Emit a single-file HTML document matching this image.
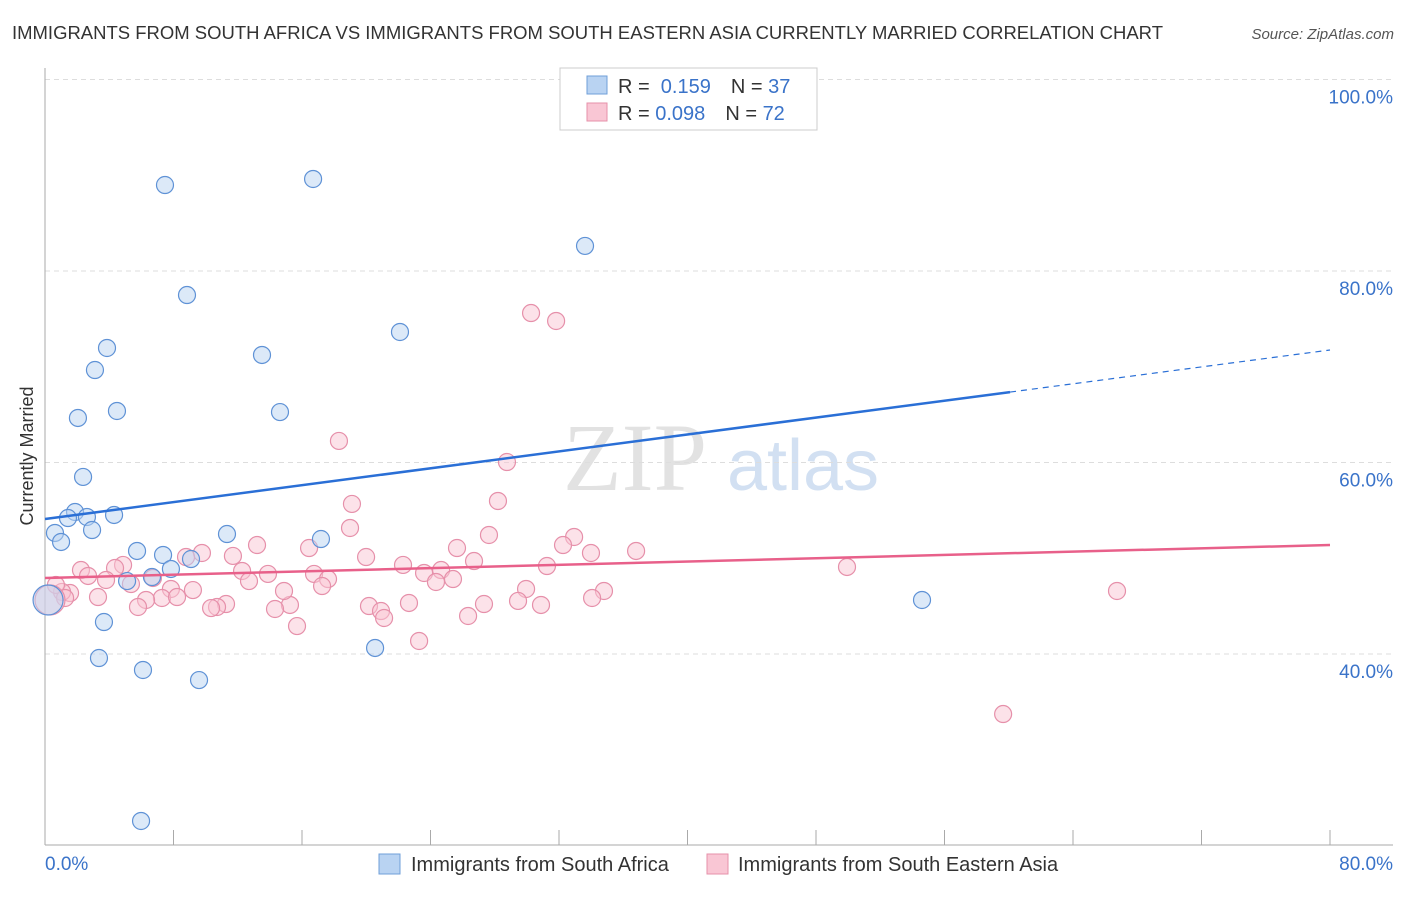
<!DOCTYPE html>
<html><head><meta charset="utf-8"><style>
body{margin:0;background:#fff;font-family:"Liberation Sans",sans-serif}
#wrap{position:relative;width:1406px;height:892px}
</style></head><body>
<div id="wrap">
<svg id="svg" width="1406" height="892" xmlns="http://www.w3.org/2000/svg">
<text x="12" y="39" font-size="18" fill="#333" textLength="1151" lengthAdjust="spacingAndGlyphs">IMMIGRANTS FROM SOUTH AFRICA VS IMMIGRANTS FROM SOUTH EASTERN ASIA CURRENTLY MARRIED CORRELATION CHART</text>
<text x="1394" y="39" font-size="15" fill="#555" font-style="italic" text-anchor="end">Source: ZipAtlas.com</text>
<text transform="translate(33,456) rotate(-90)" font-size="18" fill="#333" text-anchor="middle">Currently Married</text>
<g><text x="635" y="490" font-size="96" fill="#e2e2e2" font-family="Liberation Serif" text-anchor="middle">ZIP</text><text x="803" y="490" font-size="72" fill="#d2e0f2" text-anchor="middle">atlas</text></g>
<g id="grid"></g><g id="marks"></g>
<g>
<rect x="560" y="68" width="257" height="62" fill="#fff" stroke="#ccc"/>
<rect x="587" y="76" width="20" height="18" fill="#b9d3f2" stroke="#6f9fd8"/>
<rect x="587" y="103" width="20" height="18" fill="#f9c6d4" stroke="#e690aa"/>
<text x="618" y="93" font-size="20" fill="#333">R = <tspan fill="#3a73c9">&#160;0.159</tspan><tspan dx="20">N = </tspan><tspan fill="#3a73c9">37</tspan></text>
<text x="618" y="120" font-size="20" fill="#333">R = <tspan fill="#3a73c9">0.098</tspan><tspan dx="20">N = </tspan><tspan fill="#3a73c9">72</tspan></text>
</g>
<g>
<rect x="379" y="854" width="21" height="20" fill="#b9d3f2" stroke="#6f9fd8"/>
<text x="411" y="871" font-size="20" fill="#333">Immigrants from South Africa</text>
<rect x="707" y="854" width="21" height="20" fill="#f9c6d4" stroke="#e690aa"/>
<text x="738" y="871" font-size="20" fill="#333">Immigrants from South Eastern Asia</text>
</g>
</svg></div>
<script>
const blueX=[7.47,16.69,33.62,8.84,3.86,13.51,22.10,3.11,4.48,2.05,14.63,2.37,1.87,1.43,2.61,4.30,0.62,1.00,2.93,11.33,17.18,5.73,7.35,9.09,7.84,6.66,5.11,3.67,3.36,6.10,9.59,20.55,54.60,5.98,0.19];
const blueY=[88.98,89.61,82.62,77.49,71.96,71.23,73.63,69.66,65.38,64.65,65.27,58.49,54.83,54.20,54.31,54.52,52.64,51.70,52.95,52.53,52.01,50.76,50.34,49.92,48.88,48.04,47.62,43.34,39.58,38.33,37.28,40.63,45.64,22.56,45.64];
const pinkX=[30.26,31.82,18.30,28.76,28.20,19.11,18.99,27.64,32.94,32.25,36.80,33.99,25.65,16.44,13.20,9.77,8.78,11.70,19.99,26.71,22.29,31.25,4.86,4.36,2.24,2.68,3.80,5.35,6.72,12.27,13.88,12.70,16.75,17.62,17.25,23.60,24.66,25.40,24.34,49.93,66.74,29.95,34.80,34.06,29.45,30.88,27.33,22.66,20.17,20.92,21.11,26.34,15.25,14.32,14.88,11.27,10.71,10.34,9.21,7.84,7.28,6.29,8.22,5.79,3.30,1.56,1.06,0.68,1.25,15.69,23.29,59.65,0.31];
const pinkY=[75.61,74.78,62.25,60.05,55.98,55.67,53.16,52.43,52.22,51.38,50.76,50.55,51.07,51.07,51.38,50.55,50.13,50.24,50.13,49.71,49.30,49.19,49.30,48.98,48.77,48.15,47.73,47.31,47.94,48.67,48.36,47.62,48.36,47.83,47.10,48.46,48.77,47.83,47.52,49.09,46.58,46.79,46.58,45.85,45.54,45.12,45.22,45.33,45.01,44.49,43.76,43.97,45.12,44.70,46.58,45.22,44.91,44.80,46.68,46.79,45.85,45.64,45.95,44.91,45.95,46.37,46.48,47.21,45.85,42.92,41.36,33.73,45.64];
const blueLine=[54.10,71.75], blueSolidEnd=60.08;
const pinkLine=[47.94,51.38];
const yTicks=[40,60,80,100];
const xTickLabels=["0.0%","80.0%"];
const NS="http://www.w3.org/2000/svg";
const sx=v=>45+v/80*1285, sy=v=>654-(v-40)/20*191.5;
function mk(t,a,p){const e=document.createElementNS(NS,t);for(const k in a)e.setAttribute(k,a[k]);p.appendChild(e);return e;}
const grid=document.getElementById('grid'),marks=document.getElementById('marks');
yTicks.forEach(v=>{const l=mk('line',{x1:45,x2:1393,y1:sy(v),y2:sy(v),stroke:'#ddd','stroke-dasharray':'5,4'},grid);


const t=mk('text',{x:1393,y:sy(v)+24,'font-size':19,fill:'#3a73c9','text-anchor':'end'},grid);t.textContent=v.toFixed(1)+'%';

});
const ax=mk('line',{x1:45,x2:45,y1:68,y2:845,stroke:'#aaa'},grid);


const bx=mk('line',{x1:45,x2:1393,y1:845,y2:845,stroke:'#aaa'},grid);


for(let i=0;i<=10;i++){const t=mk('line',{x1:sx(i*8),x2:sx(i*8),y1:830,y2:845,stroke:'#aaa'},grid);

}
[[0,'start',45],[80,'end',1393]].forEach((d,i)=>{const t=mk('text',{x:d[2],y:870,'font-size':19,fill:'#3a73c9','text-anchor':d[1]},grid);t.textContent=xTickLabels[i];

});
function pts(X,Y,fill,stroke,name){X.forEach((x,i)=>{const big=(i===X.length-1);const c=mk('circle',{cx:sx(x),cy:sy(Y[i]),r:big?15:8.5,fill:fill,'fill-opacity':0.5,stroke:stroke,'stroke-width':1.2},marks);

});}
pts(pinkX,pinkY,'#f9c6d4','#e690aa','pink-point');
pts(blueX,blueY,'#b9d3f2','#5f92d6','blue-point');
const at=(l,x)=>l[0]+(l[1]-l[0])*x/80;
const b1=mk('line',{x1:sx(0),y1:sy(blueLine[0]),x2:sx(blueSolidEnd),y2:sy(at(blueLine,blueSolidEnd)),stroke:'#2a6fd6','stroke-width':2.5},marks);


const b2=mk('line',{x1:sx(blueSolidEnd),y1:sy(at(blueLine,blueSolidEnd)),x2:sx(80),y2:sy(blueLine[1]),stroke:'#2a6fd6','stroke-width':1.2,'stroke-dasharray':'6,5'},marks);


const p1=mk('line',{x1:sx(0),y1:sy(pinkLine[0]),x2:sx(80),y2:sy(pinkLine[1]),stroke:'#e8608a','stroke-width':2.5},marks);


</script>
</body></html>
